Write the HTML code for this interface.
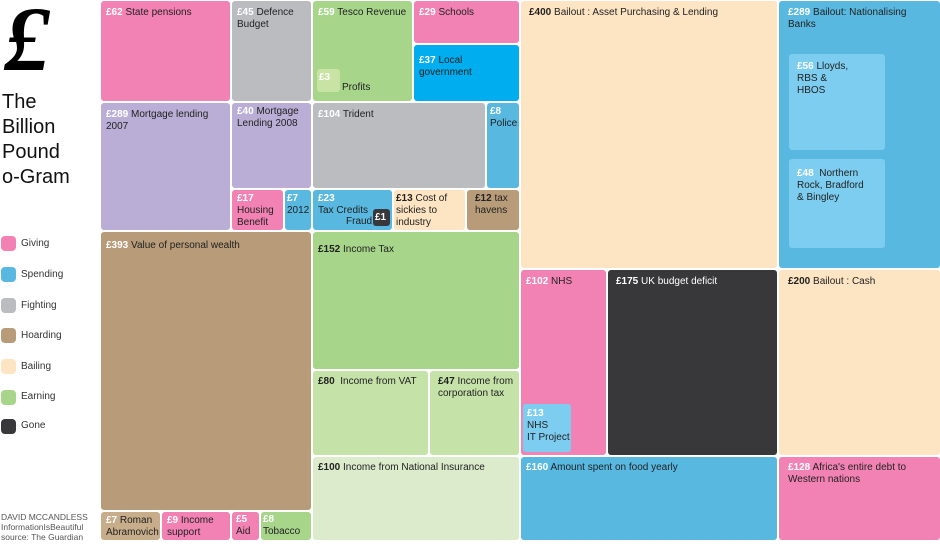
<!DOCTYPE html>
<html><head><meta charset="utf-8"><style>
body{margin:0;width:940px;height:550px;background:#fff;position:relative;overflow:hidden;font-family:"Liberation Sans",sans-serif}
.b{position:absolute;border-radius:3px;box-sizing:border-box;padding:6px 0 0 5px;font-size:10px;line-height:12px;color:#222}
.b i{font-style:normal;color:#fff;font-weight:bold}
.pk{background:#f282b4}.gy{background:#bbbcc0}.gr{background:#a7d58a}.bl{background:#58b8e0}.bb{background:#00aeef}
.pu{background:#bbaed6}.br{background:#b89b78}.be{background:#fde4c3}.dk{background:#38373a;color:#fff}
.lg{position:absolute;left:1px;width:15px;height:15px;border-radius:4px}
.lt{position:absolute;left:21px;font-size:10px;color:#333}
</style></head><body>
<div style="position:absolute;left:4px;top:-14px;font-family:'Liberation Serif',serif;font-size:92px;font-style:italic;font-weight:bold">£</div>
<div style="position:absolute;left:2px;top:90px;font-size:20px;line-height:25px;color:#111">The<br>Billion<br>Pound<br>o-Gram</div>
<div class="lg pk" style="top:236px"></div><div class="lt" style="top:238px">Giving</div>
<div class="lg bl" style="top:267px"></div><div class="lt" style="top:269px">Spending</div>
<div class="lg gy" style="top:298px"></div><div class="lt" style="top:300px">Fighting</div>
<div class="lg br" style="top:328px"></div><div class="lt" style="top:330px">Hoarding</div>
<div class="lg be" style="top:359px"></div><div class="lt" style="top:361px">Bailing</div>
<div class="lg gr" style="top:390px"></div><div class="lt" style="top:391px">Earning</div>
<div class="lg dk" style="top:419px"></div><div class="lt" style="top:420px">Gone</div>
<div style="position:absolute;left:1px;top:512px;font-size:8.5px;line-height:10px;color:#555">DAVID MCCANDLESS<br>InformationIsBeautiful<br>source: The Guardian</div>

<div class="b pk" style="left:101px;top:1px;width:129px;height:100px"><i>£62</i> State pensions</div>
<div class="b gy" style="left:232px;top:1px;width:79px;height:100px"><i>£45</i> Defence<br>Budget</div>
<div class="b gr" style="left:313px;top:1px;width:99px;height:100px"><i>£59</i> Tesco Revenue</div>
<div class="b" style="left:317px;top:69px;width:23px;height:23px;background:#c9e3a4;padding:3px 0 0 2px"><i>£3</i></div>
<div style="position:absolute;left:342px;top:82px;font-size:10px;color:#222">Profits</div>
<div class="b pk" style="left:414px;top:1px;width:105px;height:42px"><i>£29</i> Schools</div>
<div class="b bb" style="left:414px;top:45px;width:105px;height:56px;padding-top:10px"><i>£37</i> Local<br>government</div>
<div class="b pu" style="left:101px;top:103px;width:129px;height:127px"><i>£289</i> Mortgage lending<br>2007</div>
<div class="b pu" style="left:232px;top:103px;width:79px;height:85px;padding-top:3px"><i>£40</i> Mortgage<br>Lending 2008</div>
<div class="b pk" style="left:232px;top:190px;width:51px;height:40px;padding-top:3px"><i>£17</i><br>Housing<br>Benefit</div>
<div class="b bl" style="left:285px;top:190px;width:26px;height:40px;padding:3px 0 0 2px"><i>£7</i><br>2012</div>
<div class="b gy" style="left:313px;top:103px;width:172px;height:85px"><i>£104</i> Trident</div>
<div class="b bl" style="left:487px;top:103px;width:32px;height:85px;padding:3px 0 0 3px"><i>£8</i><br>Police</div>
<div class="b bl" style="left:313px;top:190px;width:79px;height:40px;padding-top:3px"><i>£23</i><br>Tax Credits</div>
<div style="position:absolute;left:346px;top:216px;font-size:10px;color:#222">Fraud</div>
<div class="b dk" style="left:373px;top:209px;width:17px;height:17px;padding:3px 0 0 2px"><i>£1</i></div>
<div class="b be" style="left:394px;top:190px;width:71px;height:40px;padding:3px 0 0 2px"><b>£13</b> Cost of<br>sickies to<br>industry</div>
<div class="b br" style="left:467px;top:190px;width:52px;height:40px;padding:3px 0 0 8px"><b>£12</b> tax<br>havens</div>
<div class="b br" style="left:101px;top:232px;width:210px;height:278px;padding-top:8px"><i>£393</i> Value of personal wealth</div>
<div class="b" style="left:101px;top:512px;width:59px;height:28px;background:#c8ad8b;padding-top:3px"><i>£7</i> Roman<br>Abramovich</div>
<div class="b pk" style="left:162px;top:512px;width:68px;height:28px;padding-top:3px"><i>£9</i> Income<br>support</div>
<div class="b pk" style="left:232px;top:512px;width:27px;height:28px;padding:2px 0 0 4px"><i>£5</i><br>Aid</div>
<div class="b gr" style="left:261px;top:512px;width:50px;height:28px;padding:2px 0 0 2px"><i>£8</i><br>Tobacco</div>
<div class="b gr" style="left:313px;top:232px;width:206px;height:137px;padding-top:12px"><b>£152</b> Income Tax</div>
<div class="b" style="left:313px;top:371px;width:115px;height:84px;background:#c5e2a8;padding-top:5px"><b>£80</b>&nbsp; Income from VAT</div>
<div class="b" style="left:430px;top:371px;width:89px;height:84px;background:#c5e2a8;padding:5px 0 0 8px"><b>£47</b> Income from<br>corporation tax</div>
<div class="b" style="left:313px;top:457px;width:206px;height:83px;background:#dcebcc;padding-top:5px"><b>£100</b> Income from National Insurance</div>
<div class="b be" style="left:521px;top:1px;width:256px;height:267px;padding:6px 0 0 8px"><b>£400</b> Bailout : Asset Purchasing &amp; Lending</div>
<div class="b bl" style="left:779px;top:1px;width:161px;height:267px;padding:6px 0 0 9px"><i>£289</i> Bailout: Nationalising<br>Banks</div>
<div class="b" style="left:789px;top:54px;width:96px;height:96px;background:#7dcdf0;padding:7px 0 0 8px"><i>£56</i> Lloyds,<br>RBS &amp;<br>HBOS</div>
<div class="b" style="left:789px;top:159px;width:96px;height:89px;background:#7dcdf0;padding:9px 0 0 8px"><i>£48</i>&nbsp; Northern<br>Rock, Bradford<br>&amp; Bingley</div>
<div class="b pk" style="left:521px;top:270px;width:85px;height:185px"><i>£102</i> NHS</div>
<div class="b" style="left:523px;top:404px;width:48px;height:48px;background:#7dcdf0;padding:4px 0 0 4px"><i>£13</i><br>NHS<br>IT Project</div>
<div class="b dk" style="left:608px;top:270px;width:169px;height:185px;padding-left:8px"><i>£175</i> UK budget deficit</div>
<div class="b be" style="left:779px;top:270px;width:161px;height:185px;padding-left:9px"><b>£200</b> Bailout : Cash</div>
<div class="b bl" style="left:521px;top:457px;width:256px;height:83px;padding-top:5px"><i>£160</i> Amount spent on food yearly</div>
<div class="b pk" style="left:779px;top:457px;width:161px;height:83px;padding:5px 0 0 9px"><i>£128</i> Africa's entire debt to<br>Western nations</div>
</body></html>
